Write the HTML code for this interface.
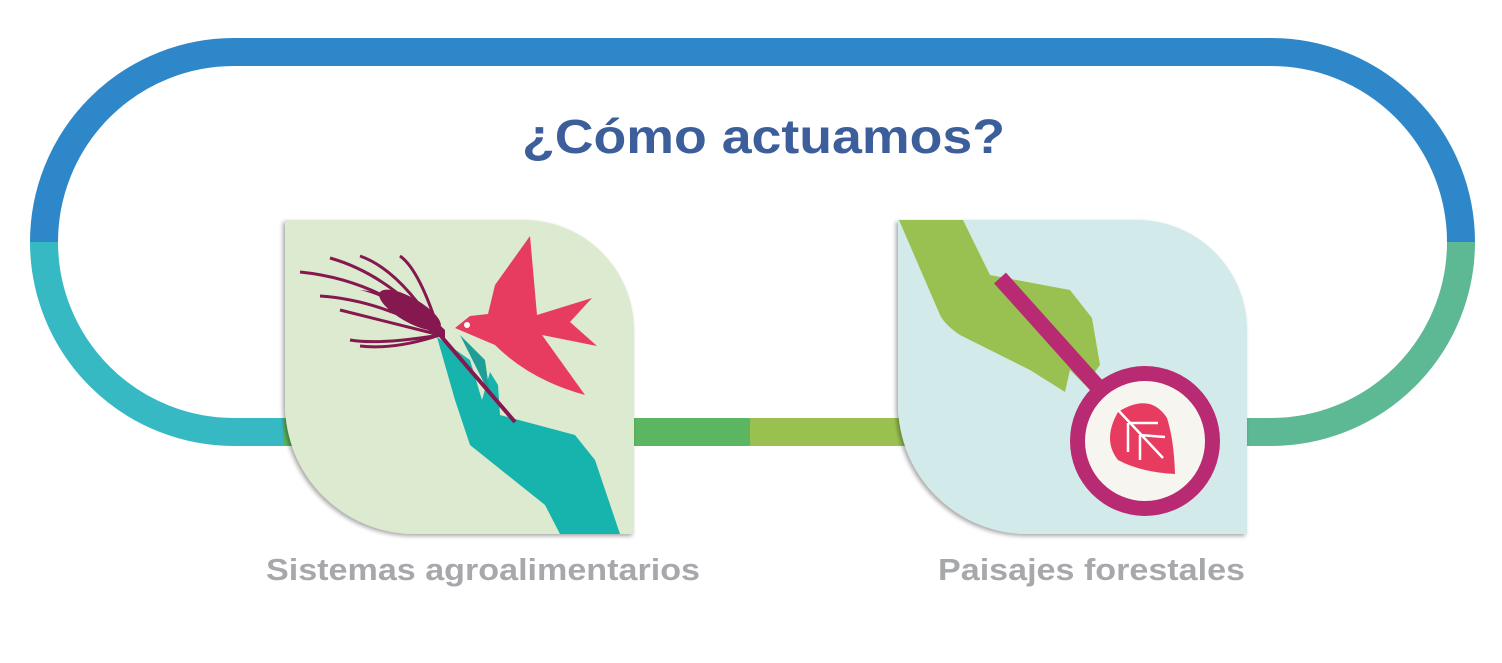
<!DOCTYPE html>
<html><head><meta charset="utf-8"><style>
html,body{margin:0;padding:0;background:#fff;}
svg{display:block;}
</style></head><body>
<svg width="1502" height="663" viewBox="0 0 1502 663" xmlns="http://www.w3.org/2000/svg">
<defs>
<filter id="sh" x="-10%" y="-10%" width="120%" height="120%"><feDropShadow dx="-2" dy="2" stdDeviation="2" flood-color="#000" flood-opacity="0.35"/></filter>
</defs>
<path d="M44 242 A190 190 0 0 1 234 52 L1271 52 A190 190 0 0 1 1461 242" fill="none" stroke="#2e87c8" stroke-width="28"/>
<path d="M44 242 A190 190 0 0 0 234 432 L290 432" fill="none" stroke="#36b9c3" stroke-width="28"/>
<path d="M1461 242 A190 190 0 0 1 1271 432 L1240 432" fill="none" stroke="#5cb993" stroke-width="28"/>
<line x1="283" y1="432" x2="300" y2="432" stroke="#5cb560" stroke-width="28"/>
<line x1="630" y1="432" x2="751" y2="432" stroke="#5cb560" stroke-width="28"/>
<line x1="750" y1="432" x2="905" y2="432" stroke="#9ac150" stroke-width="28"/>
<text x="522" y="153" textLength="483" lengthAdjust="spacingAndGlyphs" font-family="Liberation Sans, sans-serif" font-weight="bold" font-size="48" fill="#3c5f9b">¿Cómo actuamos?</text>

<path d="M285 220 L524 220 A110 110 0 0 1 634 330 L634 534 L415 534 A130 130 0 0 1 285 404 Z" fill="#dceacf" filter="url(#sh)"/>
<path d="M437 337 L470 360 L482 400 L490 372 L498 385 L500 415 L575 435 L595 460 L620 534 L560 534 L545 505 L470 445 L455 400 Z" fill="#17b3ad"/>
<path d="M460 335 L485 360 L490 395 Z" fill="#1e9e96"/>
<line x1="440" y1="335" x2="515" y2="422" stroke="#84184f" stroke-width="4"/>
<g fill="none" stroke="#84184f" stroke-width="3">
<path d="M440 335 Q380 280 300 272"/>
<path d="M440 335 Q390 275 330 258"/>
<path d="M440 335 Q400 270 360 256"/>
<path d="M440 335 Q420 270 400 256"/>
<path d="M440 335 Q380 300 320 296"/>
<path d="M440 335 Q380 320 340 310"/>
<path d="M440 335 Q380 345 350 340"/>
<path d="M440 335 Q395 350 360 346"/>
</g>
<path d="M445 338 Q400 300 360 290 Q410 295 445 330 Z" fill="#84184f"/>
<ellipse cx="410" cy="310" rx="35" ry="12" transform="rotate(30 410 310)" fill="#84184f"/>
<path d="M455 328 L470 316 L488 314 L495 285 L530 236 L537 315 L592 298 L570 322 L597 346 L542 335 L585 395 Q530 380 495 345 Z" fill="#e73c5f"/>
<circle cx="467" cy="325" r="3" fill="#fff"/>

<path d="M898 220 L1137 220 A110 110 0 0 1 1247 330 L1247 534 L1028 534 A130 130 0 0 1 898 404 Z" fill="#d3eaea" filter="url(#sh)"/>
<path d="M899 220 L963 220 L990 275 L1070 290 L1092 318 L1100 365 L1085 385 L1070 370 L1065 392 L1030 370 L960 335 Q945 325 940 315 Z" fill="#99c152"/>
<line x1="1000" y1="278" x2="1105" y2="395" stroke="#b82a71" stroke-width="16"/>
<circle cx="1145" cy="441" r="75" fill="#b82a71"/>
<circle cx="1145" cy="441" r="60" fill="#f6f5ef"/>
<path d="M1118 412 Q1150 392 1167 418 Q1174 440 1175 474 Q1140 472 1118 460 Q1102 440 1118 412 Z" fill="#e73c5f"/>
<g stroke="#fff" stroke-width="2.5" fill="none">
<line x1="1118" y1="410" x2="1163" y2="458"/>
<line x1="1128" y1="423" x2="1128" y2="452"/>
<line x1="1140" y1="435" x2="1140" y2="460"/>
<line x1="1128" y1="423" x2="1158" y2="423"/>
<line x1="1140" y1="435" x2="1165" y2="437"/>
</g>

<text x="266" y="580" textLength="434" lengthAdjust="spacingAndGlyphs" font-family="Liberation Sans, sans-serif" font-weight="bold" font-size="31" fill="#a6a8ab">Sistemas agroalimentarios</text>
<text x="938" y="580" textLength="307" lengthAdjust="spacingAndGlyphs" font-family="Liberation Sans, sans-serif" font-weight="bold" font-size="31" fill="#a6a8ab">Paisajes forestales</text>
</svg>
</body></html>
